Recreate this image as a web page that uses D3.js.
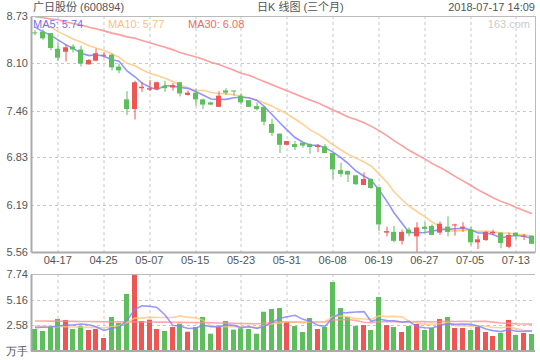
<!DOCTYPE html>
<html>
<head>
<meta charset="utf-8">
<script src="https://cdnjs.cloudflare.com/ajax/libs/d3/7.8.5/d3.min.js"></script>
<style>
  html, body { margin: 0; padding: 0; background: #fff; }
  svg { display: block; font-family: "Liberation Sans", Arial, "Noto Sans CJK SC", sans-serif; }
</style>
</head>
<body>
<svg id="chart" width="540" height="360"></svg>
<script>
// ---------------- data ----------------
const dates = ["04-12","04-13","04-16","04-17","04-18","04-19","04-20","04-23","04-24","04-25",
  "04-26","04-27","05-02","05-03","05-04","05-07","05-08","05-09","05-10","05-11",
  "05-14","05-15","05-16","05-17","05-18","05-21","05-22","05-23","05-24","05-25",
  "05-28","05-29","05-30","05-31","06-01","06-04","06-05","06-06","06-07","06-08",
  "06-11","06-12","06-13","06-14","06-15","06-19","06-20","06-21","06-22","06-25",
  "06-26","06-27","06-28","06-29","07-02","07-03","07-04","07-05","07-06","07-09",
  "07-10","07-11","07-12","07-13","07-16","07-17"];

const openP = [8.51,8.52,8.50,8.29,8.25,8.32,8.28,8.08,8.13,8.20,
  8.21,8.05,7.61,7.48,7.76,7.74,7.75,7.79,7.77,7.84,
  7.67,7.70,7.61,7.57,7.51,7.73,7.73,7.66,7.60,7.52,
  7.51,7.28,7.15,7.00,7.01,7.03,7.01,6.97,6.98,6.89,
  6.66,6.65,6.59,6.46,6.54,6.43,5.82,5.83,5.71,5.86,
  5.77,5.90,5.91,5.82,5.90,5.92,5.88,5.86,5.69,5.72,
  5.81,5.82,5.63,5.82,5.77,5.78];
const highP = [8.54,8.55,8.50,8.37,8.35,8.35,8.33,8.15,8.29,8.24,
  8.23,8.09,7.72,7.86,7.84,7.87,7.85,7.86,7.83,7.84,
  7.73,7.75,7.62,7.58,7.72,7.76,7.73,7.69,7.60,7.57,
  7.51,7.35,7.15,7.05,7.05,7.03,7.02,7.01,7.01,6.89,
  6.76,6.65,6.59,6.63,6.55,6.43,5.90,5.91,5.86,5.89,
  5.96,5.96,5.93,5.97,6.04,5.94,5.96,5.90,5.78,5.84,
  5.86,5.82,5.82,5.82,5.80,5.78];
const lowP = [8.47,8.41,8.27,8.13,8.12,8.24,8.05,8.08,8.12,8.17,
  8.00,7.96,7.40,7.34,7.71,7.72,7.74,7.71,7.73,7.65,
  7.66,7.52,7.48,7.53,7.51,7.67,7.66,7.54,7.51,7.46,
  7.26,7.12,6.89,6.99,6.93,6.96,6.88,6.90,6.89,6.54,
  6.57,6.50,6.46,6.46,6.41,5.84,5.77,5.69,5.66,5.77,
  5.56,5.81,5.79,5.79,5.77,5.78,5.83,5.65,5.60,5.71,
  5.79,5.61,5.61,5.73,5.72,5.67];
const closeP = [8.50,8.43,8.30,8.17,8.31,8.28,8.09,8.14,8.23,8.21,
  8.04,8.00,7.48,7.84,7.78,7.76,7.84,7.76,7.80,7.69,
  7.70,7.61,7.54,7.54,7.66,7.70,7.72,7.57,7.51,7.48,
  7.31,7.16,7.00,7.05,6.97,6.99,6.97,6.99,6.89,6.67,
  6.61,6.60,6.47,6.54,6.42,5.93,5.84,5.71,5.83,5.81,
  5.89,5.87,5.79,5.94,5.83,5.93,5.90,5.69,5.73,5.83,
  5.83,5.68,5.79,5.78,5.78,5.67];

const ma5 = [8.58,8.52,8.47,8.41,8.342,8.298,8.23,8.198,8.21,8.19,
  8.142,8.124,7.992,7.914,7.828,7.772,7.74,7.796,7.788,7.77,
  7.758,7.712,7.668,7.616,7.61,7.61,7.632,7.638,7.632,7.596,
  7.518,7.406,7.292,7.20,7.098,7.034,6.996,6.994,6.962,6.902,
  6.826,6.752,6.648,6.578,6.528,6.392,6.24,6.088,5.946,5.824,
  5.816,5.822,5.838,5.86,5.864,5.872,5.878,5.858,5.816,5.816,
  5.796,5.752,5.772,5.782,5.772,5.74];
const ma10 = [null,8.62,8.58,8.52,8.47,8.42,8.38,8.33,8.30,8.266,
  8.22,8.177,8.095,8.062,8.009,7.957,7.932,7.894,7.851,7.799,
  7.765,7.726,7.732,7.702,7.69,7.684,7.672,7.653,7.624,7.603,
  7.564,7.519,7.465,7.416,7.347,7.276,7.201,7.143,7.081,7.00,
  6.93,6.874,6.821,6.77,6.715,6.609,6.496,6.368,6.262,6.176,
  6.104,6.031,5.963,5.903,5.844,5.844,5.85,5.848,5.838,5.84,
  5.834,5.815,5.815,5.799,5.794,5.768];
const ma30 = [8.72,8.706,8.69,8.68,8.65,8.63,8.61,8.58,8.56,8.53,
  8.50,8.48,8.45,8.43,8.40,8.37,8.34,8.31,8.275,8.24,
  8.21,8.18,8.15,8.11,8.08,8.04,8.00,7.96,7.935,7.889,
  7.850,7.807,7.764,7.727,7.682,7.639,7.602,7.563,7.519,7.467,
  7.420,7.373,7.339,7.296,7.251,7.190,7.123,7.055,6.989,6.926,
  6.866,6.808,6.750,6.696,6.635,6.576,6.516,6.453,6.394,6.339,
  6.289,6.240,6.200,6.157,6.118,6.074];

const volume = [2.21,2.01,2.51,3.22,3.12,2.21,2.51,2.11,2.21,1.31,
  3.42,2.81,5.73,7.74,3.02,3.15,2.21,2.01,2.41,2.75,
  1.94,2.41,3.42,1.74,2.55,3.02,2.15,2.28,2.21,1.74,
  3.95,4.22,4.32,2.95,2.51,1.91,3.32,2.21,2.41,6.94,
  4.32,3.42,2.51,2.61,2.11,5.43,2.61,2.41,1.91,2.51,
  2.71,2.11,2.31,3.22,3.42,2.31,2.31,2.11,2.41,1.91,
  1.51,1.81,3.12,1.61,1.81,1.71];
const volMa5 = [2.35,2.38,2.42,2.52,2.614,2.614,2.714,2.634,2.432,2.07,
  2.312,2.372,3.096,4.202,4.544,4.49,4.37,3.626,2.56,2.506,
  2.264,2.304,2.586,2.452,2.412,2.628,2.576,2.348,2.442,2.28,
  2.466,2.88,3.288,3.436,3.59,3.182,3.002,2.58,2.472,3.358,
  3.84,3.86,3.92,3.96,2.994,3.216,3.054,3.034,2.894,2.974,
  2.43,2.33,2.31,2.572,2.754,2.674,2.714,2.674,2.512,2.21,
  2.05,1.95,2.152,1.992,1.972,2.012];
const volMa10 = [2.50,2.48,2.46,2.45,2.44,2.42,2.40,2.37,2.35,2.342,
  2.463,2.543,2.865,3.317,3.307,3.401,3.371,3.361,3.381,3.525,
  3.377,3.337,3.106,2.506,2.459,2.446,2.44,2.467,2.447,2.346,
  2.547,2.728,2.818,2.939,2.935,2.824,2.941,2.934,2.954,3.474,
  3.511,3.431,3.25,3.216,3.176,3.528,3.457,3.477,3.427,2.984,
  2.823,2.692,2.672,2.733,2.864,2.552,2.522,2.492,2.542,2.482,
  2.362,2.332,2.413,2.252,2.091,2.031];
const volMa30 = [3.02,3.01,3.00,3.00,2.99,2.98,2.97,2.96,2.95,2.94,
  2.94,2.93,2.93,2.92,2.92,2.91,2.90,2.90,2.89,2.88,
  2.87,2.86,2.85,2.84,2.82,2.80,2.78,2.76,2.75,2.738,
  2.796,2.869,2.930,2.921,2.900,2.890,2.917,2.921,2.927,3.115,
  3.145,3.165,3.058,2.887,2.857,2.933,2.946,2.959,2.943,2.935,
  2.960,2.950,2.913,2.963,2.992,2.968,2.973,2.968,2.974,2.98,
  2.899,2.818,2.778,2.734,2.710,2.704];

const xTickLabels = ["04-17","04-25","05-07","05-15","05-23","05-31","06-08","06-19","06-27","07-05","07-13"];
const priceTicks = [5.56, 6.19, 6.83, 7.46, 8.10, 8.73];
const volTicks = [0, 2.58, 5.16, 7.74];
const maLegend = [
  {name: "MA5", value: "5.74", color: "#7373f2"},
  {name: "MA10", value: "5.77", color: "#f9c27c"},
  {name: "MA30", value: "6.08", color: "#f26a6a"}
];
const stockName = "广日股份 (600894)";
const chartTitle = "日K 线图 (三个月)";
const timeStamp = "2018-07-17 14:09";
const brand = "163.com";

// ---------------- layout ----------------
const L = 31, R = 535, T = 16, B = 252;
const VT = 274, VB = 351;
const UP = "#ee5555", DOWN = "#5cbf5c";
const GRID = "#c8c8c8", AXIS = "#aaaaaa", TEXT = "#555555";

const svg = d3.select("#chart");

const x = d3.scaleBand().domain(dates).range([L, R]).paddingInner(0.345).paddingOuter(0.1725);
const cx = d => Math.round(x(d)) + 2.5;
const y = d3.scaleLinear().domain([5.56, 8.73]).range([B, T]);
const yv = d3.scaleLinear().domain([0, 7.74]).range([VB, VT]);

// header
svg.append("text").attr("x", 33).attr("y", 11).attr("font-size", 11).attr("fill", TEXT).text(stockName);
svg.append("text").attr("x", 257).attr("y", 11).attr("font-size", 11).attr("fill", TEXT).text(chartTitle);
svg.append("text").attr("x", 535).attr("y", 11).attr("font-size", 11).attr("fill", TEXT)
  .attr("text-anchor", "end").text(timeStamp);

// grid - main
const gMain = svg.append("g");
gMain.selectAll("line.hg").data(priceTicks.filter(v => v > 5.56 && v < 8.73)).join("line")
  .attr("x1", L).attr("x2", R).attr("y1", d => Math.round(y(d)) + 0.5).attr("y2", d => Math.round(y(d)) + 0.5)
  .attr("stroke", GRID).attr("stroke-dasharray", "3,3");
gMain.selectAll("line.vg").data(xTickLabels).join("line")
  .attr("x1", d => cx(d) + 0.5).attr("x2", d => cx(d) + 0.5).attr("y1", T).attr("y2", B)
  .attr("stroke", GRID).attr("stroke-dasharray", "3,3");

// grid - volume
const gVol = svg.append("g");
gVol.selectAll("line.hg").data(volTicks.filter(v => v > 0 && v < 7.74)).join("line")
  .attr("x1", L).attr("x2", R).attr("y1", d => Math.round(yv(d)) + 0.5).attr("y2", d => Math.round(yv(d)) + 0.5)
  .attr("stroke", GRID).attr("stroke-dasharray", "3,3");
gVol.selectAll("line.vg").data(xTickLabels).join("line")
  .attr("x1", d => cx(d) + 0.5).attr("x2", d => cx(d) + 0.5).attr("y1", VT).attr("y2", VB)
  .attr("stroke", GRID).attr("stroke-dasharray", "3,3");

// clip
svg.append("clipPath").attr("id", "clipMain").append("rect").attr("x", L).attr("y", T).attr("width", R - L).attr("height", B - T);

// MA lines (main)
const gLines = svg.append("g").attr("clip-path", "url(#clipMain)");
function drawLine(g, arr, color, scale, w, op) {
  const line = d3.line().defined(d => d != null)
    .x((d, i) => cx(dates[i]) + 0.5).y(d => scale(d)).curve(d3.curveLinear);
  g.append("path").datum(arr).attr("d", line).attr("fill", "none")
    .attr("stroke", color).attr("stroke-width", w).attr("stroke-opacity", op);
}
drawLine(gLines, ma30, "#ff8c8c", y, 1.6, 0.85);
drawLine(gLines, ma10, "#ffc47a", y, 1.6, 0.8);
drawLine(gLines, ma5, "#8080ff", y, 1.6, 0.85);

// candles
const candles = dates.map((d, i) => ({d, o: openP[i], h: highP[i], l: lowP[i], c: closeP[i]}));
const gC = svg.append("g");
gC.selectAll("line.wick").data(candles).join("line")
  .attr("x1", d => cx(d.d) + 0.5).attr("x2", d => cx(d.d) + 0.5)
  .attr("y1", d => y(d.h)).attr("y2", d => y(d.l))
  .attr("stroke", d => d.c >= d.o ? UP : DOWN).attr("stroke-width", 1);
gC.selectAll("rect.body").data(candles).join("rect")
  .attr("x", d => Math.round(x(d.d)))
  .attr("width", 5)
  .attr("y", d => Math.min(y(d.o), y(d.c)))
  .attr("height", d => Math.max(1, Math.abs(y(d.o) - y(d.c))))
  .attr("fill", d => d.c >= d.o ? UP : DOWN);

// volume bars
const gV = svg.append("g");
gV.selectAll("rect").data(candles).join("rect")
  .attr("x", d => Math.round(x(d.d)))
  .attr("width", 5)
  .attr("y", (d, i) => yv(volume[i]))
  .attr("height", (d, i) => VB - yv(volume[i]))
  .attr("fill", d => d.c >= d.o ? UP : DOWN);

const gVL = svg.append("g");
drawLine(gVL, volMa30, "#ff8c8c", yv, 1.6, 0.75);
drawLine(gVL, volMa10, "#ffc47a", yv, 1.6, 0.75);
drawLine(gVL, volMa5, "#8080ff", yv, 1.6, 0.8);

// frames
svg.append("line").attr("x1", L).attr("x2", R).attr("y1", T + 0.5).attr("y2", T + 0.5).attr("stroke", "#bbbbbb");
svg.append("line").attr("x1", R + 0.5).attr("x2", R + 0.5).attr("y1", T).attr("y2", B).attr("stroke", "#bbbbbb");
svg.append("line").attr("x1", L).attr("x2", R).attr("y1", VT + 0.5).attr("y2", VT + 0.5).attr("stroke", "#bbbbbb");

// axes
const axL = d3.axisLeft(y).tickValues(priceTicks).tickSize(0).tickPadding(3).tickFormat(d3.format(".2f"));
const gAxL = svg.append("g").attr("transform", `translate(${L},0)`).call(axL);
gAxL.select(".domain").attr("stroke", AXIS).attr("stroke-width", 2);
gAxL.selectAll("text").attr("font-size", 11).attr("fill", TEXT).attr("font-family", null);

const axB = d3.axisBottom(x).tickValues(xTickLabels).tickSize(0).tickPadding(4);
const gAxB = svg.append("g").attr("transform", `translate(0,${B})`).call(axB);
gAxB.select(".domain").attr("stroke", AXIS).attr("stroke-width", 2);
gAxB.selectAll("text").attr("font-size", 11).attr("fill", TEXT).attr("font-family", null);

const axVL = d3.axisLeft(yv).tickValues(volTicks).tickSize(0).tickPadding(3)
  .tickFormat(d => d === 0 ? "万手" : d3.format(".2f")(d));
const gAxVL = svg.append("g").attr("transform", `translate(${L},0)`).call(axVL);
gAxVL.select(".domain").attr("stroke", AXIS).attr("stroke-width", 2);
gAxVL.selectAll("text").attr("font-size", 11).attr("fill", TEXT).attr("font-family", null);

svg.append("line").attr("x1", L).attr("x2", R).attr("y1", VB).attr("y2", VB).attr("stroke", AXIS).attr("stroke-width", 2);

// legend
const legX = [33, 108, 188];
svg.selectAll("text.leg").data(maLegend).join("text")
  .attr("x", (d, i) => legX[i]).attr("y", 28).attr("font-size", 11)
  .attr("fill", d => d.color).text(d => `${d.name}: ${d.value}`);
svg.append("text").attr("x", 530).attr("y", 28).attr("font-size", 11).attr("fill", "#cccccc")
  .attr("text-anchor", "end").text(brand);
</script>
</body>
</html>
